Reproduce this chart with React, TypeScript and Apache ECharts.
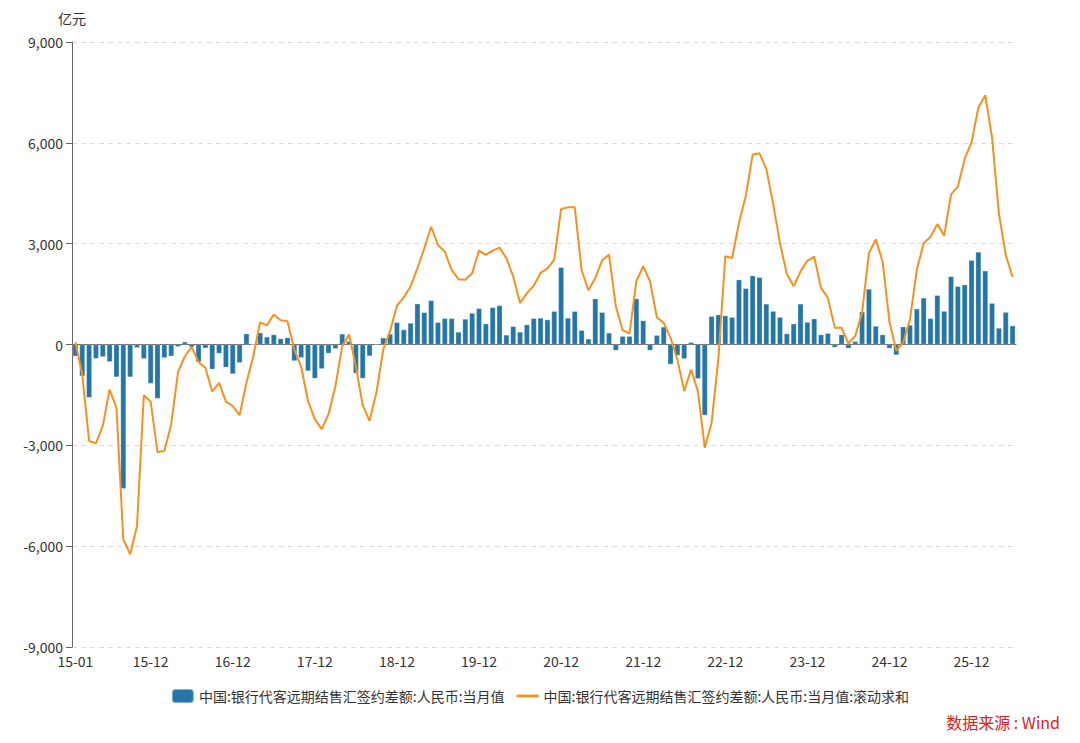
import React, { useEffect, useRef } from "react";
import * as echarts from "echarts";

const startYear = 2015;
const monthCount = 138;
const categories: string[] = [];
for (let k = 0; k < monthCount; k++) {
  const y = startYear + Math.floor(k / 12);
  const m = (k % 12) + 1;
  categories.push(String(y % 100).padStart(2, "0") + "-" + String(m).padStart(2, "0"));
}

const monthlyValues = [
  -350, -940, -1580, -420, -370, -515, -970, -4290, -970, -100, -425, -1160,
  -1610, -400, -350, -70, 80, -80, -520, -110, -740, -270, -680, -880,
  -545, 320, 0, 350, 228, 297, 178, 208, -490, -396, -790, -1010,
  -725, -266, -128, 316, 100, -860, -1010, -345, 20, 200, 316, 660,
  444, 640, 1214, 957, 1313, 660, 780, 780, 375, 760, 938, 1076,
  622, 1105, 1165, 286, 543, 375, 592, 780, 790, 742, 990, 2297,
  792, 990, 426, 168, 1366, 960, 347, -178, 248, 248, 1366, 713,
  -178, 277, 525, -594, -327, -426, 69, -1020, -2109, 842, 891, 861,
  812, 1930, 1673, 2049, 2000, 1210, 994, 817, 325, 620, 1210, 669,
  768, 295, 335, -89, 295, -118, 98, 974, 1653, 551, 295, -118,
  -315, 531, 581, 1063, 1387, 777, 1466, 994, 2027, 1732, 1781, 2509,
  2755, 2194, 1230, 492, 964, 561,
];

const rollingValues = [
  70, -900, -2870, -2940, -2420, -1340, -1890, -5800, -6240, -5400, -1510, -1700,
  -3200, -3170, -2380, -820, -350, -70, -520, -690, -1400, -1140, -1700, -1830,
  -2100, -1140, -350, 660, 570, 890, 720, 690, -150, -660, -1680, -2220,
  -2517, -2073, -1250, -50, 296, -650, -1806, -2270, -1431, -148, 395, 1155,
  1402, 1727, 2270, 2862, 3504, 2961, 2764, 2221, 1944, 1925, 2122, 2793,
  2665, 2793, 2882, 2566, 2023, 1234, 1530, 1747, 2130, 2257, 2525, 4030,
  4080, 4080, 2208, 1614, 1980, 2505, 2673, 1139, 426, 327, 1881, 2327,
  1881, 812, 644, 198, -450, -1386, -743, -1386, -3069, -2327, -400, 2624,
  2574, 3614, 4415, 5650, 5688, 5225, 4192, 3011, 2096, 1732, 2175, 2490,
  2617, 1683, 1387, 502, 502, 30, 256, 945, 2716, 3129, 2470, 679,
  -187, 59, 748, 2224, 3011, 3208, 3582, 3237, 4458, 4704, 5520, 6012,
  7045, 7419, 6160, 3897, 2667, 2007,
];

const seriesNames = [
  "中国:银行代客远期结售汇签约差额:人民币:当月值",
  "中国:银行代客远期结售汇签约差额:人民币:当月值:滚动求和",
];
const yTicks = { min: -9000, max: 9000, interval: 3000 };
const unitName = "亿元";
const sourceText = "数据来源 : Wind";

const FONT = "'Noto Sans CJK SC', 'Noto Sans', sans-serif";

function isLabelIndex(i: number) {
  return i === 0 || i % 12 === 11;
}

export default function App() {
  const ref = useRef<HTMLDivElement>(null);
  useEffect(() => {
    if (!ref.current) return;
    const chart = echarts.init(ref.current, null, { renderer: "svg" });
    chart.setOption({
      animation: false,
      backgroundColor: "#ffffff",
      textStyle: { fontFamily: FONT },
      grid: { left: 72, right: 64, top: 42, bottom: 96, containLabel: false },
      legend: {
        bottom: 34,
        left: "center",
        itemGap: 12,
        itemWidth: 22,
        itemHeight: 14,
        textStyle: { fontSize: 14, color: "#333", fontFamily: FONT },
        data: [
          { name: seriesNames[0], icon: "roundRect" },
          { name: seriesNames[1], icon: "path://M0,0 L24,0 L24,3 L0,3 Z" },
        ],
      },
      graphic: [
        {
          type: "text",
          right: 20,
          bottom: 13,
          style: {
            text: sourceText,
            fill: "#e02020",
            fontSize: 16,
            fontFamily: FONT,
          },
        },
      ],
      xAxis: {
        type: "category",
        data: categories,
        boundaryGap: true,
        axisLine: { lineStyle: { color: "#666", width: 1 } },
        axisTick: {
          alignWithLabel: true,
          length: 6,
          interval: (i: number) => isLabelIndex(i) || i === monthCount - 1,
          lineStyle: { color: "#666" },
        },
        axisLabel: {
          interval: (i: number) => isLabelIndex(i),
          color: "#333",
          fontSize: 14,
          margin: 7,
          fontFamily: FONT,
        },
        splitLine: { show: false },
      },
      yAxis: {
        type: "value",
        min: yTicks.min,
        max: yTicks.max,
        interval: yTicks.interval,
        name: unitName,
        nameLocation: "end",
        nameGap: 17,
        nameTextStyle: { color: "#333", fontSize: 14, align: "center", padding: [0, 0, 0, 0] },
        axisLine: { show: true, lineStyle: { color: "#666", width: 1 } },
        axisTick: { show: true, length: 6, lineStyle: { color: "#666" } },
        axisLabel: {
          color: "#333",
          fontSize: 14,
          margin: 9,
          fontFamily: FONT,
          formatter: (v: number) => v.toLocaleString("en-US"),
        },
        splitLine: { show: true, lineStyle: { color: "#dddddd", type: [5, 4] } },
      },
      series: [
        {
          name: seriesNames[0],
          type: "bar",
          data: monthlyValues,
          barCategoryGap: "18%",
          itemStyle: {
            color: "#2376a6",
            borderColor: "rgba(255,255,255,0.45)",
            borderWidth: 0.6,
          },
        },
        {
          name: seriesNames[1],
          type: "line",
          data: rollingValues,
          symbol: "none",
          smooth: false,
          lineStyle: { color: "#f7901e", width: 2 },
          itemStyle: { color: "#f7901e" },
        },
      ],
    });
    return () => chart.dispose();
  }, []);
  return (
    <div
      ref={ref}
      style={{ position: "fixed", left: 0, top: 0, width: 1080, height: 743, background: "#fff" }}
    />
  );
}
